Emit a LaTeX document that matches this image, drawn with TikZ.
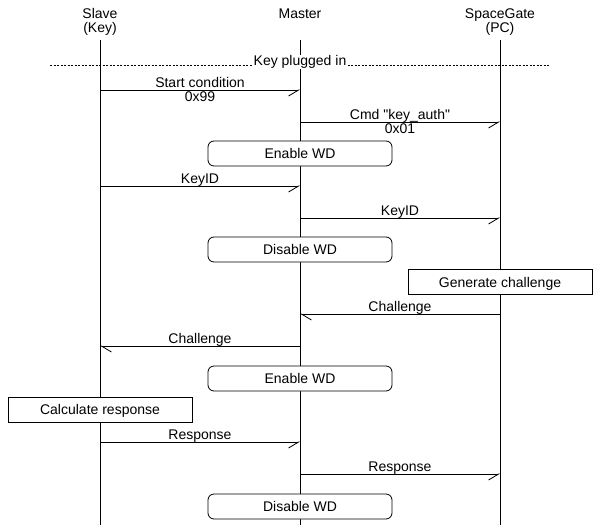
\documentclass[tikz,border=0pt]{standalone}
\usepackage{fontspec}
\setmainfont{Liberation Sans}[Ligatures=TeXOff]
\usetikzlibrary{arrows.meta, positioning, calc}

\begin{document}
\begin{tikzpicture}[x=1pt, y=-1pt, line width=0.8pt,
    font=\fontsize{14}{14}\selectfont,
    msgr/.style={-{Straight Barb[right, length=10pt, width=12pt]}},
    msgl/.style={-{Straight Barb[left, length=10pt, width=12pt]}},
    lbl/.style={anchor=base, inner sep=0pt, yshift=3pt},
    sublbl/.style={anchor=base, inner sep=0pt, yshift=-11pt},
    wdbox/.style={draw, fill=white, rounded corners=6pt, minimum width=184pt,
      minimum height=25pt, text height=10pt, text depth=0pt, inner sep=0pt},
    actbox/.style={draw, fill=white, minimum width=184pt,
      minimum height=25pt, text height=10pt, text depth=0pt, inner sep=0pt}]
      \useasboundingbox (0,0) rectangle (600,525);

      % entities
      \node[anchor=base] (slave) at (100,18) {Slave};
      \node[anchor=base] (slavekey) at (100,32) {(Key)};
      \node[anchor=base] (master) at (300,18) {Master};
      \node[anchor=base] (gate) at (500,18) {SpaceGate};
      \node[anchor=base] (gatepc) at (500,32) {(PC)};

      % lifelines
      \coordinate (sl) at (100,40);
      \coordinate (ms) at (300,40);
      \coordinate (gt) at (500,40);
      \draw (sl) -- (sl |- 0,525);
      \draw (ms) -- (ms |- 0,525);
      \draw (gt) -- (gt |- 0,525);

      % separator
      \coordinate (sepl) at (50,65);
      \coordinate (sepr) at (550,65);
      \draw[dash pattern=on 2pt off 1.5pt, line width=0.6pt] (sepl) -- (sepr);
      \node[fill=white, inner xsep=1pt, inner ysep=0.5pt, text height=10pt, text depth=3pt]
        (plug) at (300,62) {Key plugged in};

      % messages
      \draw[msgr] (sl |- 0,90) -- (ms |- 0,90)
        node[lbl, midway] {Start condition} node[sublbl, midway] {0x99};
      \draw[msgr] (ms |- 0,122) -- (gt |- 0,122)
        node[lbl, midway] {Cmd "key\_auth"} node[sublbl, midway] {0x01};
      \node[wdbox] (wd1) at (300,153.5) {Enable WD};
      \draw[msgr] (sl |- 0,186) -- (ms |- 0,186) node[lbl, midway] {KeyID};
      \draw[msgr] (ms |- 0,218) -- (gt |- 0,218) node[lbl, midway] {KeyID};
      \node[wdbox] (wd2) at (300,249.5) {Disable WD};
      \node[actbox] (gen) at (500,282) {Generate challenge};
      \draw[msgl] (gt |- 0,314) -- (ms |- 0,314) node[lbl, midway] {Challenge};
      \draw[msgl] (ms |- 0,346) -- (sl |- 0,346) node[lbl, midway] {Challenge};
      \node[wdbox] (wd3) at (300,378.5) {Enable WD};
      \node[actbox] (calc) at (100,409.5) {Calculate response};
      \draw[msgr] (sl |- 0,442) -- (ms |- 0,442) node[lbl, midway] {Response};
      \draw[msgr] (ms |- 0,474) -- (gt |- 0,474) node[lbl, midway] {Response};
      \node[wdbox] (wd4) at (300,506.5) {Disable WD};

    \end{tikzpicture}
\end{document}
